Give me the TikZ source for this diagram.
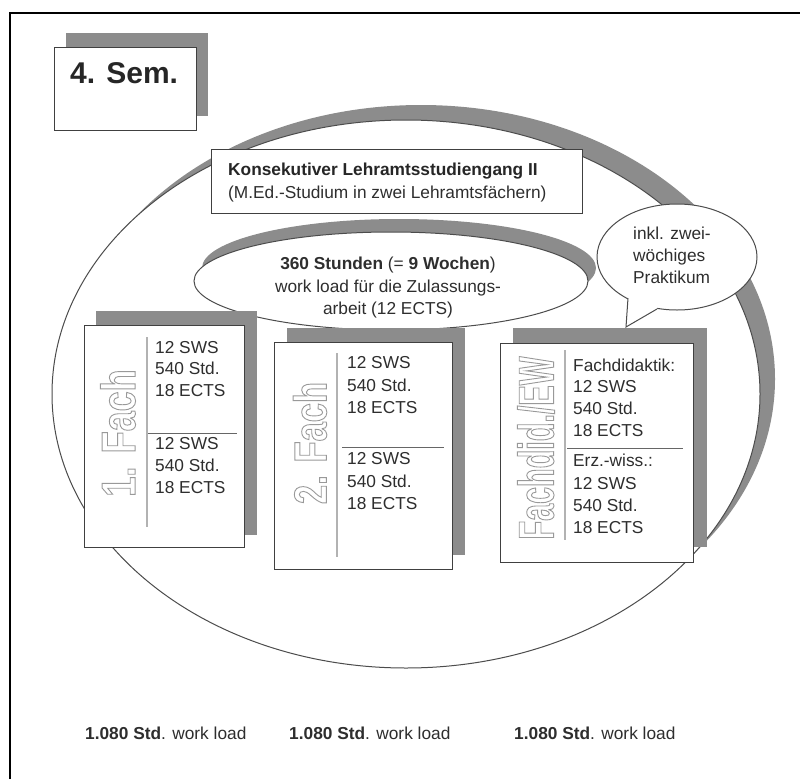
\documentclass[tikz,border=0pt]{standalone}
\usepackage{fontspec}
\setmainfont{Liberation Sans}
\newfontfamily\vfontA[FakeStretch=0.75]{Liberation Sans}
\newfontfamily\vfontB[FakeStretch=0.61]{Liberation Sans}
\usetikzlibrary{shapes.geometric}
\newcommand\hollowtext[1]{\special{pdf:literal direct 1 Tr 0.9 w}#1\special{pdf:literal direct 0 Tr}}
\tikzset{
  shadowfill/.style={fill=black!45, draw=none},
  boxface/.style={fill=white, draw=black!75, line width=1.1, inner sep=0, anchor=north west},
  body/.style={font=\fontsize{17.3}{22}\selectfont, text=black!82, inner sep=0},
  bodybold/.style={font=\bfseries\fontsize{17.3}{22}\selectfont, text=black!85, inner sep=0},
  vtextA/.style={font=\vfontA\bfseries, text=black!40, rotate=90, inner sep=0},
  vtextB/.style={font=\vfontB\bfseries\fontsize{50}{50}\selectfont, text=black!40, rotate=90, inner sep=0},
  vdivider/.style={draw=black!30, line width=1.6},
  hdivider/.style={draw=black!60, line width=0.9},
  ovalface/.style={ellipse, fill=white, draw=black!70, line width=1, inner sep=0},
  ovalshadow/.style={ellipse, fill=black!45, draw=none, inner sep=0},
}
\begin{document}
\begin{tikzpicture}[x=1pt,y=-1pt]
\useasboundingbox (0,0) rectangle (800,779);
\fill[white] (0,0) rectangle (800,779);
% frame
\draw[line width=1.8, black] (10,779) -- (10,13) -- (800,13);

% big ellipse with shadow
\node[ovalshadow, minimum width=708, minimum height=548] (bigS) at (421,379) {};
\node[ovalface, minimum width=708, minimum height=548] (big) at (406,394) {};

% 4. Sem. box
\fill[shadowfill] (66,33) rectangle (208,116);
\node[boxface, minimum width=142, minimum height=83] (sem) at (54,47) {};
\node[font=\bfseries\fontsize{30}{30}\selectfont, text=black!85, anchor=base west, inner sep=0] (semtext) at (70,83) {4. Sem.};

% Konsekutiver box
\node[boxface, minimum width=371, minimum height=64] (kons) at (211,149) {};
\node[bodybold, anchor=base west] (kons1) at (228,175) {Konsekutiver Lehramtsstudiengang II};
\node[body, anchor=base west] (kons2) at (228,198) {(M.Ed.-Studium in zwei Lehramtsfächern)};

% 360 Stunden ellipse
\node[ovalshadow, minimum width=394, minimum height=98] (wlS) at (399,268) {};
\node[ovalface, minimum width=394, minimum height=98] (wl) at (391,281) {};
\node[body, anchor=base] (wl1) at (388,269) {\textbf{360 Stunden} (= \textbf{9 Wochen})};
\node[body, anchor=base] (wl2) at (388,292) {work load für die Zulassungs-};
\node[body, anchor=base] (wl3) at (388,314) {arbeit (12 ECTS)};

% speech bubble
\node[ovalface, minimum width=160, minimum height=106] (bubble) at (677,257) {};
\coordinate (tailA) at (628,298);
\coordinate (tailTip) at (626,327);
\coordinate (tailB) at (657,309);
\fill[white] (629,294) -- (tailA) -- (tailTip) -- (tailB) -- (658,304) -- cycle;
\draw[black!70, line width=1] (tailA) -- (tailTip) -- (tailB);
\node[body, anchor=base west] (bub1) at (633,239) {inkl. zwei-};
\node[body, anchor=base west] (bub2) at (633,261) {wöchiges};
\node[body, anchor=base west] (bub3) at (633,283) {Praktikum};

% Box 1
\fill[shadowfill] (96,311) rectangle (257,535);
\node[boxface, minimum width=160, minimum height=222] (fach1) at (84,325) {};
\draw[vdivider] (147,337) -- (147,527);
\draw[hdivider] (148,433) -- (237,433);
\node[vtextA, font=\vfontA\bfseries\fontsize{48}{48}\selectfont] (fach1v) at (118,433) {\hollowtext{1. Fach}};
\node[body, anchor=base west] (f1a) at (155,353) {12 SWS};
\node[body, anchor=base west] (f1b) at (155,374) {540 Std.};
\node[body, anchor=base west] (f1c) at (155,396) {18 ECTS};
\node[body, anchor=base west] (f1d) at (155,449) {12 SWS};
\node[body, anchor=base west] (f1e) at (155,471) {540 Std.};
\node[body, anchor=base west] (f1f) at (155,493) {18 ECTS};

% Box 2
\fill[shadowfill] (287,328) rectangle (465,555);
\node[boxface, minimum width=178, minimum height=227] (fach2) at (274,342) {};
\draw[vdivider] (337,353) -- (337,557);
\draw[hdivider] (342,447) -- (444,447);
\node[vtextA, font=\vfontA\bfseries\fontsize{46}{46}\selectfont] (fach2v) at (310,443) {\hollowtext{2. Fach}};
\node[body, anchor=base west] (f2a) at (347,368) {12 SWS};
\node[body, anchor=base west] (f2b) at (347,391) {540 Std.};
\node[body, anchor=base west] (f2c) at (347,413) {18 ECTS};
\node[body, anchor=base west] (f2d) at (347,464) {12 SWS};
\node[body, anchor=base west] (f2e) at (347,487) {540 Std.};
\node[body, anchor=base west] (f2f) at (347,509) {18 ECTS};

% Box 3
\fill[shadowfill] (513,328) rectangle (707,547);
\node[boxface, minimum width=193, minimum height=219] (fach3) at (500,343) {};
\draw[vdivider] (565,350) -- (565,540);
\draw[hdivider] (567,448) -- (683,448);
\node[vtextB] (fach3v) at (536,448) {\hollowtext{Fachdid./EW}};
\node[body, anchor=base west] (f3a) at (573,371) {Fachdidaktik:};
\node[body, anchor=base west] (f3b) at (573,392) {12 SWS};
\node[body, anchor=base west] (f3c) at (573,414) {540 Std.};
\node[body, anchor=base west] (f3d) at (573,436) {18 ECTS};
\node[body, anchor=base west] (f3e) at (573,466) {Erz.-wiss.:};
\node[body, anchor=base west] (f3f) at (573,489) {12 SWS};
\node[body, anchor=base west] (f3g) at (573,511) {540 Std.};
\node[body, anchor=base west] (f3h) at (573,533) {18 ECTS};

% bottom workload texts
\node[body, anchor=base west] (wlA) at (85,739) {\textbf{1.080 Std}. work load};
\node[body, anchor=base west] (wlB) at (289,739) {\textbf{1.080 Std}. work load};
\node[body, anchor=base west] (wlC) at (514,739) {\textbf{1.080 Std}. work load};
\end{tikzpicture}
\end{document}
